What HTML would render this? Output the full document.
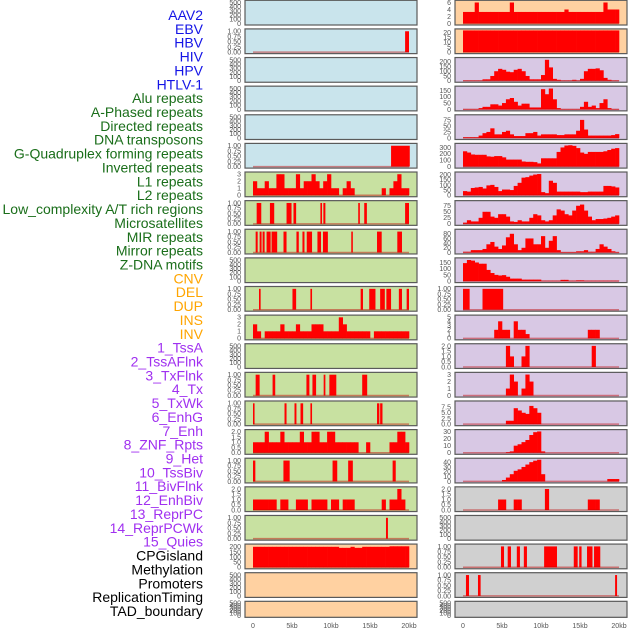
<!DOCTYPE html>
<html><head><meta charset="utf-8"><style>
html,body{margin:0;padding:0;background:#fff;}
svg{display:block;font-family:"Liberation Sans",sans-serif;}
</style></head><body>
<svg id="chart" width="630" height="630" viewBox="0 0 630 630" xmlns="http://www.w3.org/2000/svg"></svg>
<script>
// ---- labels ----
const trackLabels = ["AAV2","EBV","HBV","HIV","HPV","HTLV-1","Alu repeats","A-Phased repeats","Directed repeats","DNA transposons","G-Quadruplex forming repeats","Inverted repeats","L1 repeats","L2 repeats","Low_complexity A/T rich regions","Microsatellites","MIR repeats","Mirror repeats","Z-DNA motifs","CNV","DEL","DUP","INS","INV","1_TssA","2_TssAFlnk","3_TxFlnk","4_Tx","5_TxWk","6_EnhG","7_Enh","8_ZNF_Rpts","9_Het","10_TssBiv","11_BivFlnk","12_EnhBiv","13_ReprPC","14_ReprPCWk","15_Quies","CPGisland","Methylation","Promoters","ReplicationTiming","TAD_boundary"];
const labelGroups = ["virus","virus","virus","virus","virus","virus","repeat","repeat","repeat","repeat","repeat","repeat","repeat","repeat","repeat","repeat","repeat","repeat","repeat","sv","sv","sv","sv","sv","chrom","chrom","chrom","chrom","chrom","chrom","chrom","chrom","chrom","chrom","chrom","chrom","chrom","chrom","chrom","other","other","other","other","other"];
const xTickValues = [0,5,10,15,20];
const xTickLabels = ["0","5kb","10kb","15kb","20kb"];

// ---- tick label sets ----
const t500 = ["0","100","200","300","400","500"];
const t1 = ["0.00","0.25","0.50","0.75","1.00"];
const t3 = ["0","1","2","3"];
const t2 = ["0.0","0.5","1.0","1.5","2.0"];
const t200 = ["0","50","100","150","200"];
const t6 = ["0","2","4","6"];
const t20 = ["0","5","10","15","20"];
const t150 = ["0","50","100","150"];
const t75 = ["0","25","50","75"];
const t300 = ["0","100","200","300"];
const t80 = ["0","20","40","60","80"];
const t5 = ["0","1","2","3","4","5"];
const t7 = ["0.0","2.5","5.0","7.5"];
const t30 = ["0","10","20","30"];
const t40 = ["0","10","20","30","40"];

// ---- left column data (kb intervals or 0.5kb bins) ----
const leftHBV = [[19.5,20.0]];
const leftHTLV = [[17.7,20.1]];
const leftAlu = [2,1,1,2,1,1,3,3,1,1,1,3,1,2,2,3,2,1,2,3,1,1,0,1,2,1,0,0,0,0,0,0,0,1,0,1,2,3,1,1,0];
const leftAPhased = [[0.47,1.06],[2.17,2.72],[4.3,4.94],[5.19,5.53],[8.64,8.85],[9.02,9.28],[13.49,13.7],[14.26,14.6],[19.5,20.0]];
const leftDirected = [[0.34,0.6],[0.85,1.1],[1.23,1.49],[1.74,2.26],[2.38,3.1],[3.91,4.3],[5.57,5.87],[6.34,6.6],[6.89,7.57],[8.26,8.72],[8.97,9.6],[12.6,12.8],[15.9,16.5],[18.5,19.1]];
const leftGQuad = [[0.77,0.98],[5.06,5.53],[7.36,7.57],[13.8,14.1],[14.9,15.7],[16.3,16.9],[17.1,17.7],[18.7,19.1],[19.7,20.0]];
const leftInverted = [2,1,0,1,1,1,1,2,1,1,1,2,1,1,1,2,2,2,1,1,1,1,3,2,1,1,1,1,1,1,0,1,1,1,1,1,1,1,1,1,0];
const leftL2 = [[0.34,0.85],[2.51,2.85],[6.85,7.23],[7.62,8.09],[9.06,9.28],[9.79,10.68],[14.0,14.64]];
const leftLowComplex = [[0,0.2],[4.04,4.3],[5.32,5.57],[6.09,6.43],[7.36,7.57],[15.9,16.2],[16.3,16.6]];
const leftMicrosat = [1,1,1,2,1,1,1,2,1,1,1,1,2,1,1,2,2,1,1,2,2,1,1,1,1,1,1,0,0,1,0,0,0,0,0,1,1,2,2,1,0];
const leftMIR = [[0,0.3],[3.9,4.7],[10.2,10.8],[12.2,12.8],[17.9,18.3]];
const leftMirror = [1,1,1,1,1,1,0,1,1,0,0,1,1,1,0,1,1,1,1,0,1,1,0,1,1,1,0,0,0,0,0,0,0,1,0,1,1,2,1,0,0];
const leftZDNA = [[17.05,17.3]];
const leftCPG = [200,200,200,200,200,200,200,200,200,200,200,200,200,200,200,200,200,200,200,200,200,200,190,190,190,200,190,190,200,200,200,200,200,200,200,205,205,205,205,205,0];

// ---- right column data ----
const rightAAV2 = [3.3,3.3,3.3,6,3.3,3.3,3.3,3.3,3.3,3.3,3.3,3.3,6,3.3,3.3,3.3,3.3,3.3,3.3,3.3,3.3,3.3,3.3,3.3,3.3,3.3,4,3.3,3.3,3.3,3.3,3.3,3.3,3.3,3.3,3.3,6,4,4,4,0];
const rightEBV = [22,22,22,22,22,22,22,22,22,22,22,22,22,22,22,22,22,22,22,22,22,22,22,22,22,22,22,22,22,22,22,22,22,22,22,22,22,22,22,22,0];
const rightHIV = [3,3,3,3,3,15,15,50,100,125,115,95,90,115,125,100,50,15,15,15,60,220,140,20,10,3,3,3,10,3,20,100,125,125,130,110,30,10,3,3,0];
const rightHPV = [3,3,3,3,10,20,20,40,40,30,50,80,90,60,30,45,45,15,15,15,160,120,165,80,10,3,3,3,3,3,20,60,20,30,10,50,80,10,3,3,0];
const rightHTLV = [3,3,3,3,10,20,25,40,15,15,25,30,15,8,8,8,20,20,25,10,15,15,15,15,12,12,15,15,15,30,75,35,10,10,10,10,10,10,12,16,0];
const rightAlu = [240,220,190,185,185,185,160,155,165,165,145,110,110,110,110,80,75,75,70,50,130,130,130,130,230,300,330,335,325,290,220,200,230,230,230,230,240,260,280,290,0];
const rightAPhased = [40,35,70,75,80,65,95,100,80,40,55,55,50,90,120,170,175,190,200,205,30,20,140,120,35,35,35,35,35,35,30,30,35,35,35,35,90,90,85,75,0];
const rightDirected = [5,15,10,10,25,50,50,30,25,40,40,30,10,8,15,10,10,25,40,35,15,10,15,35,60,55,40,35,55,75,80,55,30,15,20,20,22,25,30,35,0];
const rightDNATrans = [3,3,10,10,10,15,35,45,25,15,30,65,80,35,10,20,60,60,35,35,70,20,50,70,10,2,2,2,2,5,5,10,3,3,15,35,25,15,5,2,0];
const rightGQuad = [145,170,165,150,140,140,90,65,50,45,48,35,20,20,20,12,12,12,12,12,3,3,3,3,3,10,10,3,3,6,6,3,3,3,3,3,3,3,3,3,0];
const rightInverted = [[0,0.85],[2.5,5.15]];
const rightL1 = [0,0,0,0,0,0,0,0,2,4,2,2,0,4,2,2,1,0,0,0,0,0,0,0,0,0,0,0,0,0,0,0,2,2,2,0,0,0,0,0,0];
const rightL2 = [0,0,0,0,0,0,0,0,0,0,0,2,1,0,0,1,2,0,0,0,0,0,0,0,0,0,0,0,0,0,0,0,0,2,0,0,0,0,0,0,0];
const rightLowComplex = [0,0,0,0,0,0,0,0,0,0,0,1,3,2,0,1,3,2,0,0,0,0,0,0,0,0,0,0,0,0,0,0,0,0,0,0,0,0,0,0,0];
const rightMicrosat = [0,0,0,0,0,0,0,0,0,0,0,1.5,1.5,7,6,5,4.5,8,7,5,0,0,0,0,0,0,0,0,0,0,0,0,0,0,0,0,0,0,0,0,0];
const rightMIR = [0,0,0,0,0,0,0,0,0,0,0,1,2,10,12,15,18,25,29,30,2,0,0,0,0,0,0,0,0,0,0,0,0,0,0,0,0,0,0,0,0];
const rightMirror = [0,0,0,0,0,0,0,0,0,0,3,8,15,22,25,30,35,40,43,45,15,0,0,0,0,0,0,0,0,0,0,0,0,0,0,0,0,5,5,5,0];
const rightZDNA = [0,0,0,0,0,0,0,0,0,1,1,0,0,1,1,0,0,0,0,0,0,2,0,0,0,0,0,0,0,0,0,0,1,1,1,0,0,0,0,0,0];
const rightDEL = [[4.87,5.26],[5.73,6.15],[6.9,7.3],[7.8,8.2],[10.4,12.05],[14.2,14.7],[14.9,15.2],[15.9,16.6],[16.8,17.6]];
const rightDUP = [[0.38,0.77],[1.92,2.26],[19.5,19.75]];

// ---- panel configuration ----
const leftPanels = [
 {bg:"blue",ticks:t500,max:520,ints:null,bins:null},
 {bg:"blue",ticks:t1,max:1.04,ints:leftHBV,bins:null},
 {bg:"blue",ticks:t500,max:520,ints:null,bins:null},
 {bg:"blue",ticks:t500,max:520,ints:null,bins:null},
 {bg:"blue",ticks:t500,max:520,ints:null,bins:null},
 {bg:"blue",ticks:t1,max:1.04,ints:leftHTLV,bins:null},
 {bg:"green",ticks:t3,max:3.1,ints:null,bins:leftAlu},
 {bg:"green",ticks:t1,max:1.04,ints:leftAPhased,bins:null},
 {bg:"green",ticks:t1,max:1.04,ints:leftDirected,bins:null},
 {bg:"green",ticks:t500,max:520,ints:null,bins:null},
 {bg:"green",ticks:t1,max:1.04,ints:leftGQuad,bins:null},
 {bg:"green",ticks:t3,max:3.1,ints:null,bins:leftInverted},
 {bg:"green",ticks:t500,max:520,ints:null,bins:null},
 {bg:"green",ticks:t1,max:1.04,ints:leftL2,bins:null},
 {bg:"green",ticks:t1,max:1.04,ints:leftLowComplex,bins:null},
 {bg:"green",ticks:t2,max:2.06,ints:null,bins:leftMicrosat},
 {bg:"green",ticks:t1,max:1.04,ints:leftMIR,bins:null},
 {bg:"green",ticks:t2,max:2.06,ints:null,bins:leftMirror},
 {bg:"green",ticks:t1,max:1.04,ints:leftZDNA,bins:null},
 {bg:"orange",ticks:t200,max:212,ints:null,bins:leftCPG},
 {bg:"orange",ticks:t500,max:520,ints:null,bins:null},
 {bg:"orange",ticks:t500,max:520,ints:null,bins:null}
];
const rightPanels = [
 {bg:"orange",ticks:t6,max:6.2,ints:null,bins:rightAAV2},
 {bg:"orange",ticks:t20,max:22,ints:null,bins:rightEBV},
 {bg:"purple",ticks:t200,max:228,ints:null,bins:rightHIV},
 {bg:"purple",ticks:t150,max:172,ints:null,bins:rightHPV},
 {bg:"purple",ticks:t75,max:90,ints:null,bins:rightHTLV},
 {bg:"purple",ticks:t300,max:340,ints:null,bins:rightAlu},
 {bg:"purple",ticks:t200,max:210,ints:null,bins:rightAPhased},
 {bg:"purple",ticks:t75,max:90,ints:null,bins:rightDirected},
 {bg:"purple",ticks:t80,max:93,ints:null,bins:rightDNATrans},
 {bg:"purple",ticks:t150,max:175,ints:null,bins:rightGQuad},
 {bg:"purple",ticks:t1,max:1.04,ints:rightInverted,bins:null},
 {bg:"purple",ticks:t5,max:5.1,ints:null,bins:rightL1},
 {bg:"purple",ticks:t2,max:2.06,ints:null,bins:rightL2},
 {bg:"purple",ticks:t3,max:3.1,ints:null,bins:rightLowComplex},
 {bg:"purple",ticks:t7,max:9.5,ints:null,bins:rightMicrosat},
 {bg:"purple",ticks:t30,max:30.5,ints:null,bins:rightMIR},
 {bg:"purple",ticks:t40,max:45,ints:null,bins:rightMirror},
 {bg:"gray",ticks:t2,max:2.06,ints:null,bins:rightZDNA},
 {bg:"gray",ticks:t500,max:520,ints:null,bins:null},
 {bg:"gray",ticks:t1,max:1.04,ints:rightDEL,bins:null},
 {bg:"gray",ticks:t1,max:1.04,ints:rightDUP,bins:null},
 {bg:"gray",ticks:t500,max:520,ints:null,bins:null}
];

const NS = "http://www.w3.org/2000/svg";
const svg = document.getElementById("chart");
const bgColors = {blue:"#c9e4ec",green:"#c8e1a1",orange:"#ffd1a1",purple:"#d8c8e4",gray:"#d0d0d0"};
const labelColors = {virus:"#1414e6",repeat:"#1a6e1a",sv:"#ffa500",chrom:"#a030f0",other:"#000000"};
const BIN = 0.5;
function mk(tag, attrs){ const e=document.createElementNS(NS,tag); for(const k in attrs) e.setAttribute(k,attrs[k]); return e; }
function rowTop(i){ return 0.3 + i*28.62; }
function rowH(i){ return i===21 ? 16 : 24.7; }
function xScale(col, kb){ return (col===0?253:463) + kb*7.8; }
function yScale(i, v, max){ const b=rowTop(i)+rowH(i)-1.5; return b - (v/max)*(rowH(i)-3); }

trackLabels.forEach((t,i)=>{
  const e=mk("text",{x:203,y:15+i*13.86+5,"text-anchor":"end","font-size":"14",fill:labelColors[labelGroups[i]]});
  
  
  e.textContent=t; svg.appendChild(e);
});

function drawPanel(col, i, p){
  const x0 = col===0?245:455, w=172;
  const g=mk("g",{});
  
  
  svg.appendChild(g);
  const top=rowTop(i), h=rowH(i);
  const bg=mk("rect",{x:x0,y:top,width:w,height:h,fill:bgColors[p.bg]});
  
  
  g.appendChild(bg);
  const y0=yScale(i,0,p.max);
  if(p.bins){
    p.bins.forEach((v,k)=>{
      if(v<=0) return;
      const xa=xScale(col,k*BIN), xb=xScale(col,(k+1)*BIN), yv=yScale(i,v,p.max);
      const r=mk("rect",{x:xa,y:yv,width:xb-xa+0.3,height:y0-yv,fill:"#ff0000"});
      
      
      g.appendChild(r);
    });
  }
  if(p.ints){
    p.ints.forEach(iv=>{
      const xa=xScale(col,iv[0]), xb=xScale(col,iv[1]), yv=yScale(i,1,p.max);
      const r=mk("rect",{x:xa,y:yv,width:Math.max(1,xb-xa),height:y0-yv,fill:"#ff0000"});
      
      
      g.appendChild(r);
    });
  }
  if(p.bins||p.ints){
    const bl=mk("line",{x1:xScale(col,0),x2:xScale(col,20),y1:y0,y2:y0,stroke:"rgba(190,0,0,0.45)","stroke-width":1.5});
    
    
    g.appendChild(bl);
  }
  const br=mk("rect",{x:x0,y:top,width:w,height:h,fill:"none",stroke:"#5a5a5a","stroke-width":1.2});
  
  
  g.appendChild(br);
  p.ticks.forEach(t=>{
    const v=parseFloat(t), yy=yScale(i,v,p.max);
    const tx=mk("text",{x:x0-4,y:yy+2.4,"text-anchor":"end","font-size":"7",fill:"#555"});
    
    
    tx.textContent=t; g.appendChild(tx);
  });
}
leftPanels.forEach((p,i)=>drawPanel(0,i,p));
rightPanels.forEach((p,i)=>drawPanel(1,i,p));

[0,1].forEach(col=>{
  xTickValues.forEach((v,k)=>{
    const tx=mk("text",{x:xScale(col,v),y:628,"text-anchor":"middle","font-size":"7",fill:"#555"});
    
    
    tx.textContent=xTickLabels[k]; svg.appendChild(tx);
  });
});
</script>
</body></html>
